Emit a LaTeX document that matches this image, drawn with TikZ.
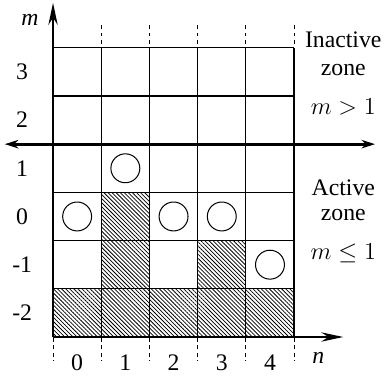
\documentclass[tikz,border=0pt]{standalone}
\usepackage{fontspec}
\setmainfont{Liberation Serif}
\usetikzlibrary{arrows.meta,patterns.meta}
\begin{document}
\begin{tikzpicture}[x=1cm,y=1cm,
  lbl/.style={font=\fontsize{14}{16}\selectfont, inner sep=0pt},
  gridln/.style={line width=0.7pt},
  tick/.style={line width=0.6pt, dash pattern=on 2.2pt off 2.2pt},
  hatch/.style={pattern={Lines[angle=-45,distance=1.7pt,line width=0.45pt]}},
  ball/.style={circle, draw, line width=0.6pt, minimum size=0.6cm, inner sep=0pt},
  axis/.style={line width=0.9pt, -{Stealth[length=13pt,width=5.5pt]}},
  divider/.style={line width=1.8pt, {Stealth[length=8pt,width=5pt]}-{Stealth[length=8pt,width=5pt]}}]
\useasboundingbox (-1.10,-0.85) rectangle (7.01,6.99);
% hatched cells
\fill[hatch] (0,0) rectangle (5,1);
\fill[hatch] (1,1) rectangle (2,3);
\fill[hatch] (3,1) rectangle (4,2);
% grid
\draw[gridln] (0,0) grid (5,6);
% dashed ticks
\foreach \x in {1,...,5} \draw[tick] (\x,6.08) -- (\x,6.54);
\foreach \x in {0,...,5} \draw[tick] (\x,-0.02) -- (\x,-0.50);
% axes
\coordinate (o) at (0,0);
\coordinate (mtip) at (0,6.93);
\coordinate (ntip) at (6.02,0);
\coordinate (dl) at (-1.0,4);
\coordinate (dr) at (6.68,4);
\draw[axis] (o) -- (mtip);
\draw[axis] (o) -- (ntip);
\draw[divider] (dl) -- (dr);
\node[lbl] (mlab) at (-0.48,6.58) {\textit{m}};
\node[lbl] (nlab) at (5.50,-0.43) {\textit{n}};
% row labels
\foreach \m/\yy in {3/5.5,2/4.5,1/3.5,0/2.5,-1/1.5,-2/0.5}
  \node[lbl] (r\yy) at (-0.64,\yy) {\m};
% column labels
\foreach \n in {0,...,4}
  \node[lbl] (c\n) at (\n+0.5,-0.54) {\n};
% balls
\node[ball] (b1) at (1.5,3.5) {};
\node[ball] (b2) at (0.5,2.5) {};
\node[ball] (b3) at (2.5,2.5) {};
\node[ball] (b4) at (3.5,2.5) {};
\node[ball] (b5) at (4.5,1.5) {};
% zone texts
\node[lbl] (t1) at (6.02,6.16) {Inactive};
\node[lbl] (t2) at (6.02,5.54) {zone};
\node[lbl] (t3) at (6.02,4.77) {$m>1$};
\node[lbl] (t4) at (6.02,3.09) {Active};
\node[lbl] (t5) at (6.02,2.53) {zone};
\node[lbl] (t6) at (6.02,1.74) {$m\le 1$};
\end{tikzpicture}
\end{document}
